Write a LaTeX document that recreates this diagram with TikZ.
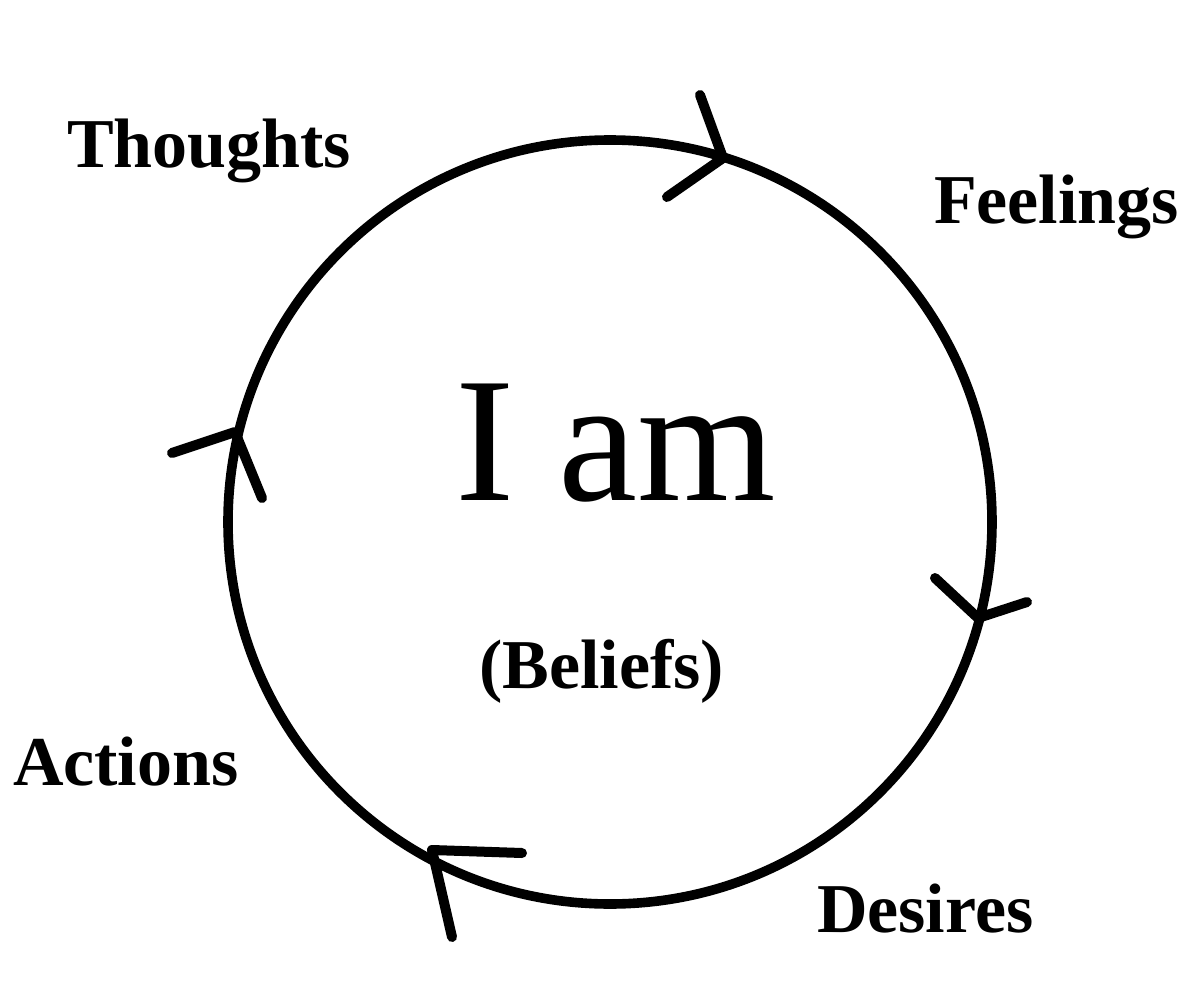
\documentclass[tikz,border=0pt]{standalone}
\usepackage{fontspec}
\setmainfont{Liberation Serif}
\begin{document}
\begin{tikzpicture}[x=0.5pt,y=-0.5pt,
  lbl/.style={anchor=base west,inner sep=0pt,outer sep=0pt,font=\fontsize{35}{40}\selectfont\bfseries},
  big/.style={anchor=base west,inner sep=0pt,outer sep=0pt,font=\fontsize{89}{100}\selectfont},
  ringstyle/.style={circle,draw=black,line width=4.8pt,minimum size=382pt,inner sep=0pt},
  chev/.style={draw=black,line width=5pt,line cap=round,line join=round}]
\useasboundingbox (0,0) rectangle (1200,1001);
\fill[white] (0,0) rectangle (1200,1001);
\node[ringstyle] (ring) at (610,522) {};
\draw[chev] (700,95) -- (723,158) -- (667,197);
\draw[chev] (935,578) -- (978,618) -- (1027,602);
\draw[chev] (522,853) -- (432,850) -- (452,937);
\draw[chev] (172,453) -- (235,432) -- (262,498);
\node[lbl] (thoughts) at (67,167) {Thoughts};
\node[lbl] (feelings) at (934,223) {Feelings};
\node[lbl] (actions) at (13,785) {Actions};
\node[lbl] (desires) at (817,932) {Desires};
\node[lbl] (beliefs) at (479,688) {(Beliefs)};
\node[big] (iam) at (455,500) {I am};
\end{tikzpicture}
\end{document}
